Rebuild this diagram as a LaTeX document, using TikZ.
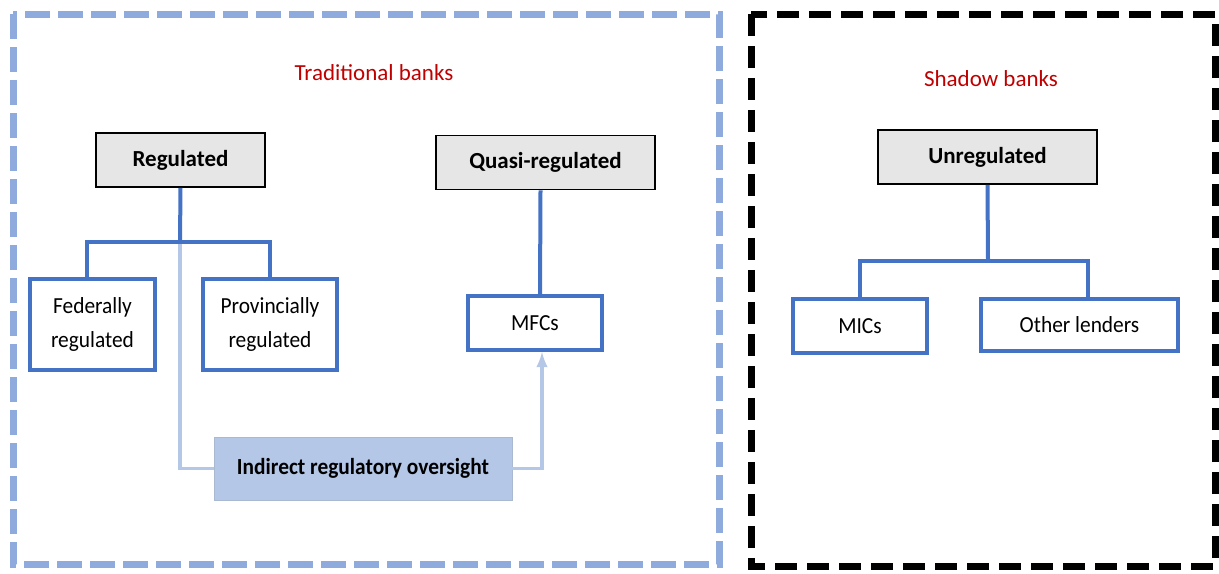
\documentclass[tikz,border=0pt]{standalone}
\usepackage{fontspec}
\setmainfont{Carlito}
\newfontfamily\narrowfont{Carlito}[FakeStretch=0.93]
\usetikzlibrary{calc}
\definecolor{darkred}{HTML}{C00000}
\definecolor{treeblue}{HTML}{4472C4}
\definecolor{paleblue}{HTML}{B4C7E7}
\definecolor{frameblue}{HTML}{8FAADC}
\definecolor{headgrey}{HTML}{E7E6E6}

\begin{document}
\begin{tikzpicture}[
 x=0.5pt,y=-0.5pt,
 >={latex},
 align=center,
 inner sep=1mm,
 font=\fontsize{11.5}{14}\selectfont,
 head/.style={draw=black,line width=0.8pt,fill=headgrey,rectangle,minimum height=27pt,font=\fontsize{11.5}{14}\selectfont\bfseries},
 leaf/.style={draw=treeblue,line width=2pt,fill=white,rectangle,minimum height=27pt,font=\narrowfont\fontsize{11.5}{17}\selectfont},
 note/.style={fill=paleblue,draw=paleblue!80!gray,line width=0.4pt,rectangle,minimum width=149pt,minimum height=31.5pt,font=\narrowfont\fontsize{11.5}{14}\selectfont\bfseries},
 tree/.style={draw=treeblue,line width=2pt},
 link/.style={draw=paleblue,line width=1.6pt},
 title/.style={text=darkred}
]
\useasboundingbox (0,0) rectangle (1219,573);
% the two frames
\draw [frameblue,line width=3.5pt,dash pattern=on 12.5pt off 4pt] (13,14) rectangle (719,564);
\draw [black,line width=3.5pt,dash pattern=on 11pt off 5pt] (751,14) rectangle (1215,566);
\node (trad-title) [title] at (374,73) {Traditional banks};
\node (shadow-title) [title] at (991,79) {Shadow banks};
% heads
\node (regulated) [head,minimum width=84.5pt] at (180.5,160) {Regulated};
\node (quasi) [head,minimum width=109.5pt] at (545.5,162.5) {Quasi-regulated};
\node (unregulated) [head,minimum width=109.5pt] at (987.5,157) {Unregulated};
% leaves
\node (federal) [leaf,minimum width=62.5pt,minimum height=45.5pt] at (92.5,324.5) {Federally\\regulated};
\node (provincial) [leaf,minimum width=67pt,minimum height=45.5pt] at (270,324.5) {Provincially\\regulated};
\node (mfcs) [leaf,minimum width=67pt] at (535,323) {MFCs};
\node (mics) [leaf,minimum width=67pt] at (860,326) {MICs};
\node (other) [leaf,minimum width=98.5pt,minimum height=26pt] at (1079.5,325) {Other lenders};
\node (oversight) [note] at (363,468.5) {Indirect regulatory oversight};
% tree lines
\coordinate (reg-split) at (180,242);
\coordinate (unreg-split) at (988,261);
\draw [link] (reg-split) |- (oversight.west);
\draw [link,->] (oversight.east) -| ($(mfcs.south)+(7,0)$);
\draw [tree] (regulated.south) -- (reg-split);
\draw [tree] ($(federal.north)+(-6,0)$) |- (reg-split) -| (provincial.north);
\draw [tree] ($(quasi.south)+(-5,0)$) -- ($(mfcs.north)+(5,0)$);
\draw [tree] (unregulated.south) -- (unreg-split);
\draw [tree] (mics.north) |- (unreg-split) -| ($(other.north)+(8,0)$);
\end{tikzpicture}
\end{document}
